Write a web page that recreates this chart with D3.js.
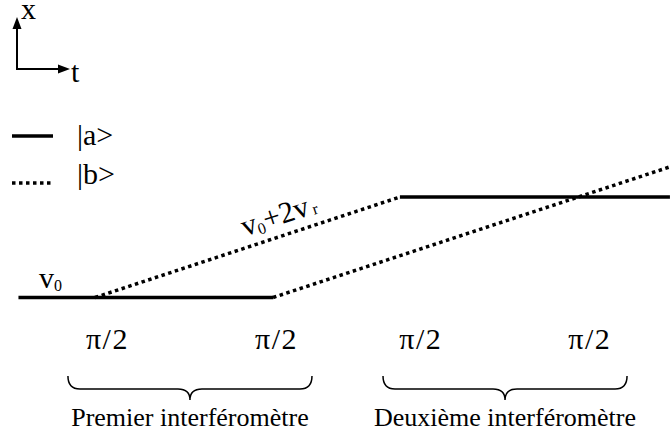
<!DOCTYPE html>
<html>
<head>
<meta charset="utf-8">
<script src="https://cdn.jsdelivr.net/npm/d3@7"></script>
<style>
  body { margin: 0; background: #fff; }
</style>
</head>
<body>
<div id="chart"></div>
<script>
// Data (t in units of T, x in units of the 2vr*T separation)
const pathA = [
    [[-0.43, 0], [1, 0]],
    [[1.713, 1], [3.23, 1]]
];
const pathB = [
    [[0, 0], [1.713, 1]],
    [[1, 0], [3.23, 1.3]]
];
const pulseTimes = [0.07, 1.02, 1.83, 2.78];
const pulseLabels = ["π/2", "π/2", "π/2", "π/2"];
const braces = [[-0.152, 1.219], [1.618, 2.989]];
const braceLabels = ["Premier interféromètre", "Deuxième interféromètre"];
const legendNames = ["|a>", "|b>"];

const width = 670, height = 431;
const serif = "Liberation Serif";

const svg = d3.select("#chart")
    .append("svg")
    .attr("width", width)
    .attr("height", height)
    .attr("font-family", serif);

// Scales
const xScale = d3.scaleLinear().domain([0, 1]).range([95, 273]);
const yScale = d3.scaleLinear().domain([0, 1]).range([297.5, 197]);

const line = d3.line()
    .x(d => xScale(d[0]))
    .y(d => yScale(d[1]));

// --- Axes arrows ---
const ax = svg.append("g");
ax.append("line").attr("x1", 17).attr("y1", 69).attr("x2", 17).attr("y2", 27)
    .attr("stroke", "#000").attr("stroke-width", 2);
ax.append("path").attr("d", "M17,17 L12.5,29 L21.5,29 Z").attr("fill", "#000");
ax.append("line").attr("x1", 16).attr("y1", 69).attr("x2", 60).attr("y2", 69)
    .attr("stroke", "#000").attr("stroke-width", 2);
ax.append("path").attr("d", "M70,69 L58,64.5 L58,73.5 Z").attr("fill", "#000");
ax.append("text").attr("x", 21).attr("y", 19).attr("font-family", serif).attr("font-size", 30).text("x");
ax.append("text").attr("x", 71).attr("y", 82).attr("font-family", serif).attr("font-size", 30).text("t");

// --- Legend ---
const legend = svg.append("g");
const legY = [136, 183];
legendNames.forEach((name, i) => {
    legend.append("line")
        .attr("x1", 12).attr("x2", 53)
        .attr("y1", legY[i]).attr("y2", legY[i])
        .attr("stroke", "#000").attr("stroke-width", 3.5)
        .attr("stroke-dasharray", i === 1 ? "3.5,3.5" : null);
    legend.append("text")
        .attr("x", 77).attr("y", i === 0 ? 145 : 184)
        .attr("font-family", serif)
        .attr("font-size", 30)
        .text(name);
});

// --- Trajectories ---
svg.selectAll("path.a")
    .data(pathA)
    .join("path")
    .attr("class", "a")
    .attr("d", line)
    .attr("fill", "none")
    .attr("stroke", "#000")
    .attr("stroke-width", 3.5);

svg.selectAll("path.b")
    .data(pathB)
    .join("path")
    .attr("class", "b")
    .attr("d", line)
    .attr("fill", "none")
    .attr("stroke", "#000")
    .attr("stroke-width", 3.5)
    .attr("stroke-dasharray", "3.5,3.5");

// v0 label
const v0 = svg.append("text").attr("x", 39).attr("y", 288)
    .attr("font-family", serif).attr("font-size", 30);
v0.append("tspan").text("v");
v0.append("tspan").attr("dy", 3).attr("font-size", 16).text("0");

// v0+2vr label along first dotted line
const seg = pathB[0];
const angle = Math.atan2(yScale(seg[1][1]) - yScale(seg[0][1]), xScale(seg[1][0]) - xScale(seg[0][0])) * 180 / Math.PI;
const tLab = 0.86;
const xLab = tLab * (seg[1][1] - seg[0][1]) / (seg[1][0] - seg[0][0]);
const vLab = svg.append("text")
    .attr("transform", `translate(${xScale(tLab)},${yScale(xLab)}) rotate(${angle})`)
    .attr("y", -11)
    .attr("font-family", serif)
    .attr("font-size", 30);
vLab.append("tspan").text("v");
vLab.append("tspan").attr("dy", 3).attr("font-size", 16).text("0");
vLab.append("tspan").attr("dy", -3).text("+2v");
vLab.append("tspan").attr("dy", 1).attr("dx", 3).attr("font-size", 16).text("r");

// --- Pulse labels ---
svg.selectAll("text.pulse")
    .data(pulseTimes)
    .join("text")
    .attr("class", "pulse")
    .attr("x", d => xScale(d))
    .attr("y", 349)
    .attr("text-anchor", "middle")
    .attr("font-family", serif)
    .attr("font-size", 30)
    .attr("letter-spacing", 1.5)
    .text((d, i) => pulseLabels[i]);

// --- Braces ---
function bracePath(x0, x1) {
    const y0 = 376, ym = 389, tip = 400, r = 12;
    const xm = (x0 + x1) / 2;
    return `M${x0},${y0} Q${x0},${ym} ${x0 + r},${ym} L${xm - r},${ym} Q${xm},${ym} ${xm},${tip}` +
        ` Q${xm},${ym} ${xm + r},${ym} L${x1 - r},${ym} Q${x1},${ym} ${x1},${y0}`;
}

svg.selectAll("path.brace")
    .data(braces)
    .join("path")
    .attr("class", "brace")
    .attr("d", d => bracePath(xScale(d[0]), xScale(d[1])))
    .attr("fill", "none")
    .attr("stroke", "#000")
    .attr("stroke-width", 1.5);

svg.selectAll("text.brace-label")
    .data(braces)
    .join("text")
    .attr("class", "brace-label")
    .attr("x", d => (xScale(d[0]) + xScale(d[1])) / 2)
    .attr("y", 426)
    .attr("text-anchor", "middle")
    .attr("font-family", serif)
    .attr("font-size", 26)
    .text((d, i) => braceLabels[i]);
</script>
</body>
</html>
